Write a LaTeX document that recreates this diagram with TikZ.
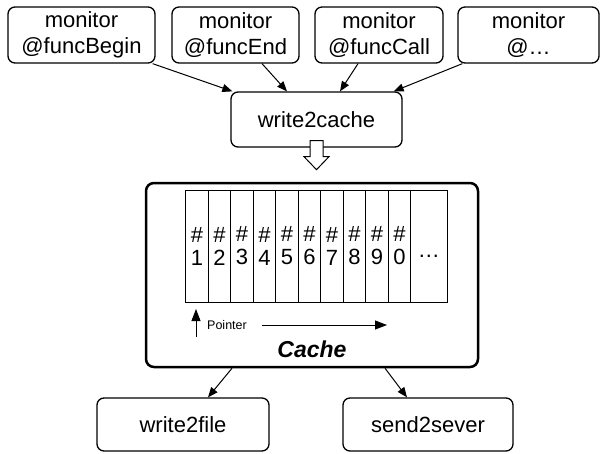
\documentclass[tikz,border=0pt]{standalone}
\usepackage{fontspec}
\setmainfont{Liberation Sans}
\usetikzlibrary{arrows.meta,calc}
\begin{document}
\begin{tikzpicture}[x=1pt,y=-1pt,
  box/.style={draw,line width=1.3pt,rounded corners=7pt,inner sep=0pt,align=center,
    font=\fontsize{22}{26}\selectfont},
  cachebox/.style={draw,line width=2.5pt,rounded corners=8pt,inner sep=0pt},
  cell/.style={draw,line width=0.6pt,inner sep=0pt,minimum width=22.5pt,minimum height=112pt,
    align=center,font=\fontsize{22}{23}\selectfont},
  link/.style={line width=1pt,-{Triangle[length=10pt,width=8pt]}},
  ptr/.style={line width=1pt,-{Triangle[length=12pt,width=9pt]}},
  hollow/.style={draw,line width=1pt,fill=white,line join=miter},
]
\useasboundingbox (0,0) rectangle (602,453);

% event monitors
\node[box,minimum width=147pt,minimum height=56pt] (m1) at (81.5,35) {monitor\\@funcBegin};
\node[box,minimum width=127pt,minimum height=56pt] (m2) at (235.5,35) {monitor\\@funcEnd};
\node[box,minimum width=128pt,minimum height=56pt] (m3) at (379,35) {monitor\\@funcCall};
\node[box,minimum width=141pt,minimum height=56pt] (m4) at (528.5,35) {monitor\\@\dots};

% writer
\node[box,minimum width=171pt,minimum height=55pt] (w2c) at (316.5,119.5) {write2cache};

\draw[link] ([xshift=-3pt]m1.south east) -- ([xshift=2pt]w2c.north west);
\draw[link] ([xshift=26.5pt]m2.south) -- ([xshift=-29.5pt]w2c.north);
\draw[link] ([xshift=-21pt]m3.south) -- ([xshift=23.5pt]w2c.north);
\draw[link] ([xshift=5pt]m4.south west) -- ([xshift=-9pt]w2c.north east);

% cache container
\node[cachebox,minimum width=332pt,minimum height=184pt] (cache) at (312,275) {};

% hollow arrow into the cache
\coordinate (ha) at ([yshift=7pt]w2c.south);
\path[hollow] ($(ha)+(-6.5,0)$) -- ($(ha)+(6.5,0)$) -- ($(ha)+(6.5,16)$) -- ($(ha)+(12.5,16)$)
  -- ($(ha)+(0,29)$) -- ($(ha)+(-12.5,16)$) -- ($(ha)+(-6.5,16)$) -- cycle;

% cache slots
\foreach \d [count=\i from 0] in {1,2,3,4,5,6,7,8,9,0} {
  \node[cell] (c\i) at (196.95+22.5*\i,246) {\#\\\d};
}
\node[cell,minimum width=36.3pt] (cdots) at (428.85,246) {\smash{\raisebox{-11pt}{\dots}}};

% pointer
\coordinate (ptail) at (196,337);
\coordinate (phead) at (196,309);
\draw[ptr] (ptail) -- (phead);
\node[anchor=west,inner sep=0pt,font=\fontsize{12.5}{14}\selectfont] (plabel) at (207,325.5) {Pointer};
\coordinate (dstart) at (262,325);
\coordinate (dend) at (387,325);
\draw[ptr] (dstart) -- (dend);

\node[anchor=base,inner sep=0pt,font=\fontsize{23}{26}\selectfont\bfseries\itshape] (clabel) at (312,357) {Cache};

% consumers
\node[box,minimum width=172pt,minimum height=53pt] (wf) at (183,424.5) {write2file};
\node[box,minimum width=170pt,minimum height=53pt] (ss) at (428,424.5) {send2sever};

\draw[link] ([xshift=-80pt]cache.south) -- ([xshift=25pt]wf.north);
\draw[link] ([xshift=73pt]cache.south) -- ([xshift=-21pt]ss.north);
\end{tikzpicture}
\end{document}
